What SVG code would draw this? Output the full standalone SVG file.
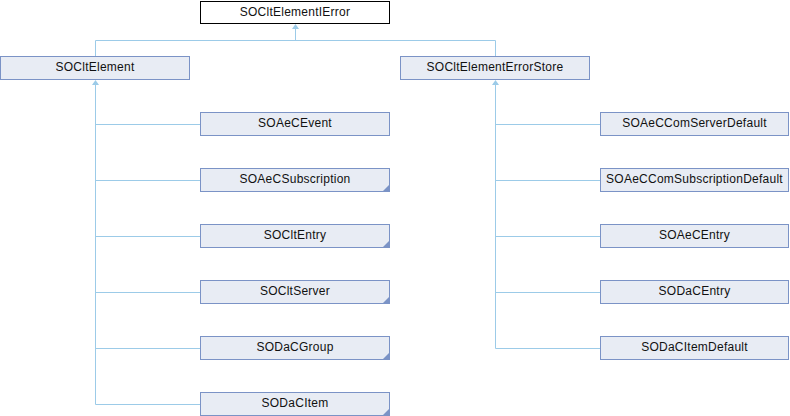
<svg xmlns="http://www.w3.org/2000/svg" width="790" height="416" viewBox="0 0 790 416">
<style>
.n rect{fill:#e8ecf4;stroke:#7b93c6;stroke-width:1}
.n.top rect{fill:#ffffff;stroke:#000000}
.n text{font-family:"Liberation Sans",Arial,sans-serif;font-size:12px;letter-spacing:0.25px;fill:#111;text-anchor:middle}
.n polygon{fill:#7b93c6}
#edges path{fill:none;stroke:#9ccbe8;stroke-width:1}
#edges polygon{fill:#9ccbe8}
</style>
<rect width="790" height="416" fill="#ffffff"/>
<g id="edges">
<path d="M295.5,29V40.5M95.5,40.5H495.5M95.5,40.5V56M495.5,40.5V56"/>
<polygon points="295.5,24 292,29 299,29"/>
<path d="M95.5,85V404.5M95.5,124.5H200M95.5,180.5H200M95.5,236.5H200M95.5,292.5H200M95.5,348.5H200M95.5,404.5H200"/>
<polygon points="95.5,80 92,85 99,85"/>
<path d="M495.5,85V348.5M495.5,124.5H600M495.5,180.5H600M495.5,236.5H600M495.5,292.5H600M495.5,348.5H600"/>
<polygon points="495.5,80 492,85 499,85"/>
</g>
<g id="n_top" class="n top"><rect x="200.5" y="1.5" width="189" height="22"/><text x="295" y="15.5">SOCltElementIError</text></g>
<g id="n_element" class="n"><rect x="0.5" y="56.5" width="189" height="23"/><text x="95" y="71">SOCltElement</text></g>
<g id="n_store" class="n"><rect x="400.5" y="56.5" width="189" height="23"/><text x="495" y="71">SOCltElementErrorStore</text></g>
<g id="n_aecevent" class="n"><rect x="200.5" y="112.5" width="189" height="23"/><text x="295" y="127">SOAeCEvent</text></g>
<g id="n_aecsub" class="n"><rect x="200.5" y="168.5" width="189" height="23"/><polygon points="389,185 389,191 383,191"/><text x="295" y="183">SOAeCSubscription</text></g>
<g id="n_cltentry" class="n"><rect x="200.5" y="224.5" width="189" height="23"/><polygon points="389,241 389,247 383,247"/><text x="295" y="239">SOCltEntry</text></g>
<g id="n_cltserver" class="n"><rect x="200.5" y="280.5" width="189" height="23"/><polygon points="389,297 389,303 383,303"/><text x="295" y="295">SOCltServer</text></g>
<g id="n_dacgroup" class="n"><rect x="200.5" y="336.5" width="189" height="23"/><polygon points="389,353 389,359 383,359"/><text x="295" y="351">SODaCGroup</text></g>
<g id="n_dacitem" class="n"><rect x="200.5" y="392.5" width="189" height="23"/><polygon points="389,409 389,415 383,415"/><text x="295" y="407">SODaCItem</text></g>
<g id="n_comsrv" class="n"><rect x="600.5" y="112.5" width="188" height="23"/><text x="694.5" y="127">SOAeCComServerDefault</text></g>
<g id="n_comsub" class="n"><rect x="600.5" y="168.5" width="188" height="23"/><text x="694.5" y="183">SOAeCComSubscriptionDefault</text></g>
<g id="n_aecentry" class="n"><rect x="600.5" y="224.5" width="188" height="23"/><text x="694.5" y="239">SOAeCEntry</text></g>
<g id="n_dacentry" class="n"><rect x="600.5" y="280.5" width="188" height="23"/><text x="694.5" y="295">SODaCEntry</text></g>
<g id="n_itemdef" class="n"><rect x="600.5" y="336.5" width="188" height="23"/><text x="694.5" y="351">SODaCItemDefault</text></g>
</svg>
